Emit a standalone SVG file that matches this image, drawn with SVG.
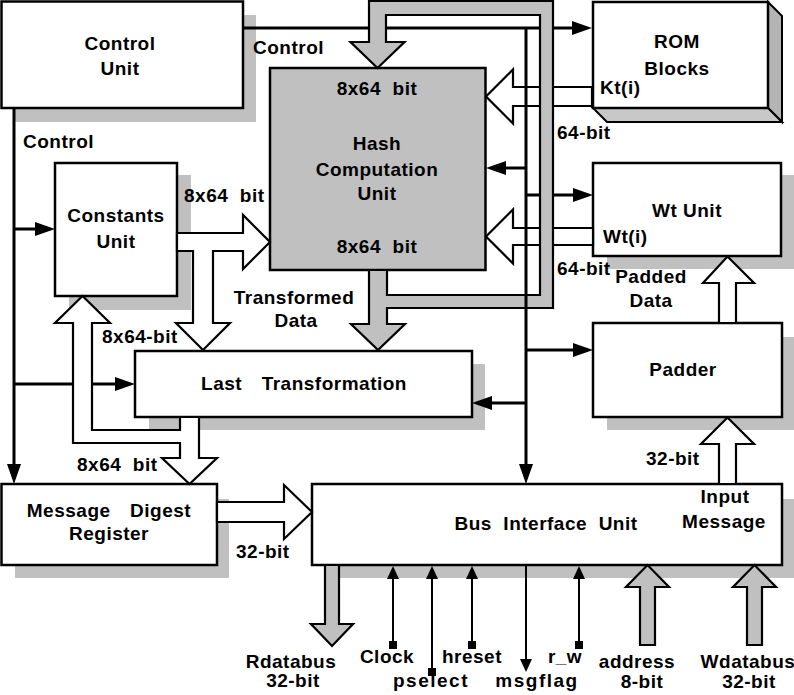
<svg xmlns="http://www.w3.org/2000/svg" width="794" height="695" viewBox="0 0 794 695">
<style>
.t{font-family:"Liberation Sans",Arial,sans-serif;font-weight:bold;font-size:19px;fill:#000;letter-spacing:0.5px}
.m{text-anchor:middle}
.box{fill:#fff;stroke:#000;stroke-width:2.5}
.sh{fill:#c0c0c0;stroke:none}
.gray{fill:#c0c0c0;stroke:#000;stroke-width:2.2;stroke-linejoin:miter}
.hol{fill:#fff;stroke:#000;stroke-width:2.2;stroke-linejoin:miter}
.ctl{fill:none;stroke:#000;stroke-width:3}
.pin{fill:none;stroke:#000;stroke-width:2}
.sp{letter-spacing:1.5px}
.wide{word-spacing:4px}
</style>
<defs>
<marker id="ah" viewBox="0 0 20 14" refX="15" refY="7" markerWidth="20" markerHeight="14" markerUnits="userSpaceOnUse" orient="auto"><path d="M0,0 L20,7 L0,14 z" fill="#000"/></marker>
<marker id="as" viewBox="0 0 13 12" refX="9" refY="6" markerWidth="13" markerHeight="12" markerUnits="userSpaceOnUse" orient="auto"><path d="M0,0 L13,6 L0,12 z" fill="#000"/></marker>
<marker id="sq" viewBox="0 0 8 8" refX="4" refY="4" markerWidth="8" markerHeight="8" markerUnits="userSpaceOnUse"><rect width="8" height="8" fill="#000"/></marker>
</defs>
<rect width="794" height="695" fill="#fff"/>

<g id="control-unit">
<rect class="sh" x="14" y="15" width="242" height="107"/>
<rect class="box" x="1.5" y="1.5" width="241.5" height="106.5"/>
<text class="t m" x="120" y="50">Control</text>
<text class="t m" x="120" y="75">Unit</text>
</g>

<g id="rom-blocks">
<polygon points="768,2 782,16 782,122 768,108" fill="#b4b4b4" stroke="#000" stroke-width="2"/>
<polygon points="593,108 768,108 782,122 607,122" fill="#c8c8c8" stroke="#000" stroke-width="2"/>
<rect class="box" x="593" y="2" width="175" height="106"/>
<text class="t m" x="677" y="48">ROM</text>
<text class="t m" x="677" y="75">Blocks</text>
<text class="t" x="600" y="94">Kt(i)</text>
</g>

<g id="hash-unit">
<rect x="270" y="68" width="215.5" height="202" fill="#c0c0c0" stroke="#000" stroke-width="2.5"/>
<text class="t m" x="377" y="95" xml:space="preserve">8x64  bit</text>
<text class="t m" x="377" y="150">Hash</text>
<text class="t m" x="377" y="176">Computation</text>
<text class="t m" x="377" y="200">Unit</text>
<text class="t m" x="377" y="253" xml:space="preserve">8x64  bit</text>
</g>

<g id="constants-unit">
<rect class="sh" x="69" y="175" width="122" height="135"/>
<rect class="box" x="55" y="163" width="122" height="133"/>
<text class="t m" x="116" y="222">Constants</text>
<text class="t m" x="116" y="248">Unit</text>
</g>

<g id="wt-unit">
<rect class="sh" x="607" y="175" width="188" height="94"/>
<rect class="box" x="593" y="163" width="188" height="93"/>
<text class="t m" x="687" y="217">Wt Unit</text>
<text class="t" x="603" y="243">Wt(i)</text>
</g>

<g id="last-transformation">
<rect class="sh" x="149" y="364" width="336" height="66"/>
<rect class="box" x="135" y="351" width="337" height="66"/>
<text class="t m wide" x="304" y="390" xml:space="preserve">Last  Transformation</text>
</g>

<g id="padder">
<rect class="sh" x="607" y="337" width="188" height="93"/>
<rect class="box" x="593" y="323" width="189" height="94"/>
<text class="t m" x="683" y="376">Padder</text>
</g>

<g id="message-digest-register">
<rect class="sh" x="15" y="499" width="214" height="79"/>
<rect class="box" x="1.5" y="484" width="215.5" height="81"/>
<text class="t m wide" x="109" y="517" xml:space="preserve">Message  Digest</text>
<text class="t m" x="109" y="540">Register</text>
</g>

<g id="bus-interface-unit">
<rect class="sh" x="325" y="499" width="470" height="79"/>
<rect class="box" x="312" y="484" width="470" height="81"/>
<text class="t m" x="546" y="530" xml:space="preserve">Bus  Interface  Unit</text>
<text class="t m" x="725" y="503">Input</text>
<text class="t m" x="724" y="528">Message</text>
</g>

<g id="connectors">
<polygon class="hol" points="592,87 513,87 513,69.5 486,96.5 513,123.5 513,106 592,106"/>
<polygon class="hol" points="593,228 513,228 513,209.5 486,236.5 513,263.5 513,245 593,245"/>
<polygon class="hol" points="177,233 243,233 243,215 270,242 243,269 243,251 213,251 213,323 230,323 203,350 176,323 193,323 193,251 177,251"/>
<polygon class="hol" points="719,323 719,283 703,283 727.5,256.5 754,283 736,283 736,323"/>
<polygon class="hol" points="719,484 719,444 701,444 727.5,417.5 754,444 736,444 736,484"/>
<polygon class="hol" points="217,502 284,502 284,485 312,512 284,539 284,522 217,522"/>

<path class="ctl" d="M243,28 H587" marker-end="url(#ah)"/>
<path class="ctl" d="M526,195 H588" marker-end="url(#ah)"/>

<polygon class="gray" points="369,1 553,1 553,308 387,308 387,324 405,324 378,350 351,324 369,324 369,270 387,270 387,295 540,295 540,15 386,15 386,42 404.5,42 377.5,68 350.5,42 369,42"/>

<path class="ctl" d="M526,27 V479" marker-end="url(#ah)"/>
<path class="ctl" d="M526,168 H491" marker-end="url(#ah)"/>
<path class="ctl" d="M526,350 H588" marker-end="url(#ah)"/>
<path class="ctl" d="M526,403 H477" marker-end="url(#ah)"/>
<path class="ctl" d="M14,108 V479" marker-end="url(#ah)"/>
<path class="ctl" d="M14,229 H50" marker-end="url(#ah)"/>
<path class="ctl" d="M14,384 H130" marker-end="url(#ah)"/>

<polygon class="hol" points="199,417 199,458 217,458 189.5,484 162,458 180,458 180,443 73,443 73,323 55,323 82.5,296 110,323 92,323 92,430 180,430 180,417"/>

<polygon class="gray" points="325,565 325,624 311,624 332,646 353,624 339,624 339,565"/>
<polygon class="gray" points="640,645 640,587 626,587 647.5,565 669,587 655,587 655,645"/>
<polygon class="gray" points="747,645 747,587 733,587 754.5,565 776,587 762,587 762,645"/>
<path class="pin" d="M393,645 V570" marker-start="url(#sq)" marker-end="url(#as)"/>
<path class="pin" d="M432,672 V570" marker-start="url(#sq)" marker-end="url(#as)"/>
<path class="pin" d="M472,645 V570" marker-start="url(#sq)" marker-end="url(#as)"/>
<path class="pin" d="M579,645 V570" marker-start="url(#sq)" marker-end="url(#as)"/>
<path class="pin" d="M526,565 V668" marker-end="url(#as)"/>

<text class="t" x="253" y="54">Control</text>
<text class="t" x="23" y="148">Control</text>
<text class="t" x="557" y="139">64-bit</text>
<text class="t" x="557" y="275">64-bit</text>
<text class="t" x="184" y="202" xml:space="preserve">8x64  bit</text>
<text class="t m" x="294" y="304">Transformed</text>
<text class="t m" x="296" y="327">Data</text>
<text class="t m" x="651" y="283">Padded</text>
<text class="t m" x="651" y="307">Data</text>
<text class="t" x="102" y="343">8x64-bit</text>
<text class="t" x="77" y="471" xml:space="preserve">8x64  bit</text>
<text class="t" x="236" y="558">32-bit</text>
<text class="t" x="646" y="465">32-bit</text>
<text class="t m" x="291" y="668">Rdatabus</text>
<text class="t m" x="293" y="687">32-bit</text>
<text class="t m" x="387" y="663">Clock</text>
<text class="t m sp" x="431" y="687">pselect</text>
<text class="t m" x="472" y="663">hreset</text>
<text class="t m sp" x="537" y="687">msgflag</text>
<text class="t m" x="565" y="663">r_w</text>
<text class="t m" x="637" y="668">address</text>
<text class="t m" x="642" y="688">8-bit</text>
<text class="t m" x="748" y="668">Wdatabus</text>
<text class="t m" x="749" y="688">32-bit</text>
</g>
</svg>
